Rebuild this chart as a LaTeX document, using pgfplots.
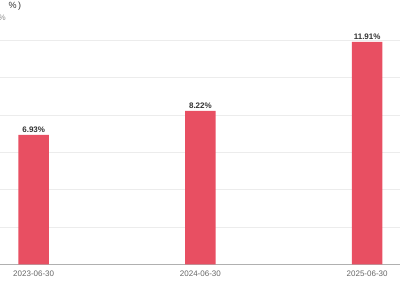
\documentclass[border=0pt]{standalone}
\usepackage{fontspec}
\setmainfont{Liberation Sans}
\usepackage{pgfplots}
\pgfplotsset{compat=1.18}
\usetikzlibrary{calc}
\definecolor{barred}{HTML}{E84F62}
\definecolor{gridc}{HTML}{ECECEC}
\definecolor{axisc}{HTML}{B0B0B0}
\definecolor{labc}{HTML}{666666}
\definecolor{valc}{HTML}{333333}
\begin{document}
\begin{tikzpicture}[x=1pt,y=1pt]
\begin{axis}[
  scale only axis, width=400pt, height=224pt,
  xmin=-0.202, xmax=2.197, ymin=0, ymax=12,
  axis x line*=bottom, axis y line*=left,
  y axis line style={draw=none},
  x axis line style={draw=axisc, line width=0.8pt, -},
  ytick={0,2,...,12}, yticklabels={}, ytick style={draw=none},
  ymajorgrids,
  grid style={draw=gridc, line width=0.6pt},
  xtick=data, xticklabels={2023-06-30,2024-06-30,2025-06-30},
  xtick style={draw=none},
  xticklabel style={font=\fontsize{8}{9}\selectfont, text=labc, yshift=1pt},
  ybar, bar width=30.5pt,
  nodes near coords={\pgfmathprintnumber[fixed,fixed zerofill,precision=2]{\pgfplotspointmeta}\%},
  nodes near coords style={font=\bfseries\fontsize{8}{9}\selectfont, text=valc, anchor=south, inner sep=2.5pt},
  /pgf/number format/assume math mode=true,
  clip=false,
]
\addplot[fill=barred, draw=none] coordinates {(0,6.93) (1,8.22) (2,11.91)};
\coordinate (o) at (axis cs:-0.202,0);
\end{axis}
\pgfresetboundingbox
\path[use as bounding box] (o) ++(0,-35.7) rectangle ++(400,300);
\node[anchor=west, inner sep=0, font=\fontsize{9}{10}\selectfont, text=valc] at ($(o)+(8.5,257.8)$) {\%\,)};
\node[anchor=east, inner sep=0, font=\fontsize{8}{9}\selectfont, text=labc!75] at ($(o)+(6,246.3)$) {\%};
\end{tikzpicture}
\end{document}
